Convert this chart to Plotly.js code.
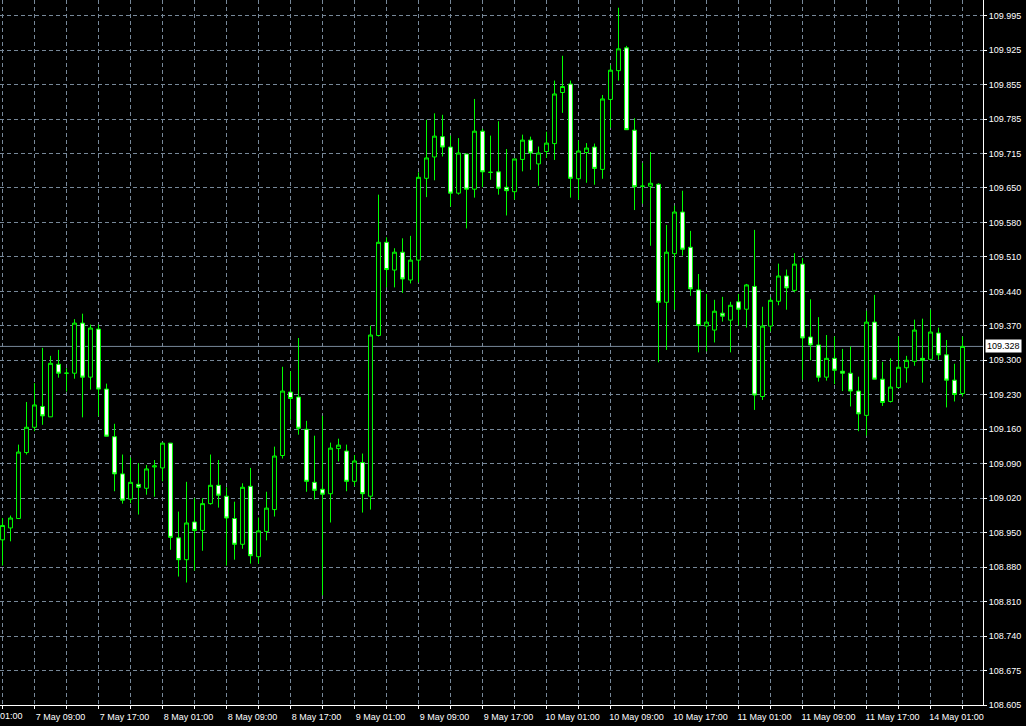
<!DOCTYPE html>
<html>
<head>
<meta charset="utf-8">
<script src="https://cdn.plot.ly/plotly-3.0.1.min.js"></script>
<style>
  html, body { margin: 0; padding: 0; background: #000; }
  #chart { width: 1026px; height: 726px; }
</style>
</head>
<body>
<div id="chart"></div>
<script>
// USDJPY H1 candles (bar 0 = 7 May 05:00; weekend gap after 11 May 23:00)
const open = [
108.938,108.962,108.981,109.114,109.165,109.207,109.186,109.292,109.274,109.274,
109.375,109.266,109.363,109.242,109.146,109.071,109.020,109.050,109.042,109.085,
109.083,109.133,108.942,108.898,108.974,108.957,109.011,109.048,109.026,108.981,
108.929,109.046,108.904,108.955,108.999,109.108,109.236,109.226,109.161,109.054,
109.040,109.031,109.122,109.117,109.056,109.094,109.026,109.350,109.538,109.482,
109.518,109.462,109.502,109.667,109.710,109.751,109.730,109.637,109.716,109.645,
109.762,109.679,109.680,109.649,109.640,109.705,109.744,109.696,109.721,109.737,
109.840,109.857,109.666,109.719,109.730,109.685,109.826,109.884,109.930,109.764,
109.651,109.651,109.655,109.417,109.515,109.599,109.528,109.442,109.369,109.361,
109.395,109.381,109.418,109.403,109.449,109.227,109.369,109.419,109.470,109.441,
109.494,109.347,109.331,109.266,109.304,109.278,109.274,109.238,109.189,109.377,
109.262,109.217,109.245,109.285,109.298,109.304,109.302,109.355,109.311,109.260,
109.233];
const high = [
108.982,108.987,109.130,109.216,109.254,109.325,109.309,109.321,109.284,109.383,
109.394,109.372,109.372,109.253,109.172,109.110,109.104,109.093,109.089,109.099,
109.133,109.133,108.995,109.055,109.022,109.022,109.110,109.099,109.044,109.015,
109.052,109.083,108.983,109.035,109.126,109.287,109.278,109.345,109.178,109.148,
109.188,109.134,109.142,109.130,109.109,109.112,109.370,109.634,109.548,109.526,
109.546,109.551,109.679,109.785,109.798,109.795,109.753,109.748,109.716,109.827,
109.767,109.753,109.782,109.726,109.706,109.755,109.751,109.731,109.761,109.864,
109.914,109.864,109.743,109.738,109.737,109.835,109.895,110.011,109.934,109.788,
109.698,109.720,109.657,109.573,109.612,109.642,109.561,109.474,109.434,109.422,
109.428,109.418,109.434,109.454,109.563,109.408,109.427,109.495,109.483,109.516,
109.506,109.423,109.387,109.351,109.348,109.323,109.328,109.267,109.400,109.432,
109.297,109.304,109.348,109.309,109.382,109.384,109.402,109.366,109.341,109.293,
109.348];
const low = [
108.886,108.935,108.981,109.110,109.157,109.170,109.186,109.265,109.237,109.263,
109.185,109.241,109.187,109.147,109.036,109.011,109.012,108.989,109.029,109.025,
109.056,108.918,108.864,108.852,108.876,108.916,109.009,109.003,108.886,108.898,
108.920,108.890,108.890,108.937,108.985,109.102,109.180,109.150,109.035,109.019,
108.826,108.973,109.096,109.036,109.046,108.993,108.999,109.348,109.447,109.447,
109.436,109.455,109.457,109.629,109.663,109.711,109.610,109.634,109.566,109.628,
109.649,109.664,109.634,109.592,109.624,109.681,109.684,109.652,109.708,109.704,
109.799,109.628,109.624,109.658,109.654,109.666,109.769,109.864,109.765,109.603,
109.616,109.531,109.296,109.321,109.402,109.511,109.430,109.316,109.318,109.336,
109.378,109.316,109.370,109.366,109.200,109.220,109.358,109.411,109.402,109.437,
109.261,109.300,109.257,109.259,109.252,109.238,109.207,109.157,109.148,109.262,
109.208,109.215,109.245,109.255,109.289,109.255,109.302,109.301,109.205,109.217,
109.227];
const close = [
108.967,108.982,109.115,109.165,109.210,109.188,109.294,109.274,109.274,109.375,
109.266,109.365,109.242,109.147,109.071,109.018,109.054,109.044,109.081,109.087,
109.133,108.943,108.898,108.972,108.957,109.011,109.048,109.028,108.982,108.929,
109.044,108.906,108.956,109.002,109.107,109.238,109.223,109.163,109.056,109.038,
109.030,109.123,109.129,109.056,109.097,109.031,109.351,109.538,109.483,109.518,
109.464,109.502,109.669,109.708,109.752,109.730,109.637,109.718,109.645,109.762,
109.680,109.679,109.647,109.642,109.706,109.744,109.718,109.718,109.738,109.837,
109.852,109.667,109.722,109.728,109.687,109.827,109.885,109.928,109.765,109.650,
109.651,109.657,109.417,109.518,109.599,109.524,109.444,109.370,109.377,109.399,
109.389,109.411,109.403,109.452,109.230,109.369,109.421,109.470,109.446,109.494,
109.345,109.331,109.266,109.304,109.280,109.274,109.238,109.192,109.377,109.262,
109.215,109.246,109.286,109.300,109.361,109.300,109.357,109.311,109.260,109.231,
109.328];

const lastPrice = 109.328;
const lastPriceLabel = '109.328';

// price scale labels (top to bottom)
const yLabels = ['109.995','109.925','109.855','109.785','109.715','109.650','109.580',
  '109.510','109.440','109.370','109.300','109.230','109.160','109.090','109.020',
  '108.950','108.880','108.810','108.740','108.675','108.605'];

// time categories: hourly bars, Friday 11 May closes at 23:00, Monday 14 May opens 00:00
const firstDay = 7, firstHour = 5, barsBeforeWeekend = 115, mondayDay = 14;
const times = [];
for (let i = 0; i < open.length; i++) {
  let d, h;
  if (i < barsBeforeWeekend) { const t = firstHour + i; d = firstDay + Math.floor(t / 24); h = t % 24; }
  else { d = mondayDay; h = i - barsBeforeWeekend; }
  times.push(d + ' May ' + String(h).padStart(2, '0') + ':00');
}
// visible tail of the "7 May 01:00" label that is scrolled past the left edge
const leftEdgeLabel = '01:00';

const xTickVals = times.filter((_, i) => i % 4 === 0);
const xTickText = xTickVals.map((t, k) => (k % 2 === 1 ? t : ''));
const yTop = parseFloat(yLabels[0]), yBot = parseFloat(yLabels[yLabels.length - 1]);
const yTickVals = yLabels.map((_, k) => yTop - k * (yTop - yBot) / (yLabels.length - 1));

const LIME = '#00ff00';
const GRID = '#778899';
const FONT = 'Liberation Sans, Arial, sans-serif';

const trace = {
  type: 'candlestick',
  x: times, open: open, high: high, low: low, close: close,
  increasing: { line: { color: LIME, width: 1 }, fillcolor: '#000000' },
  decreasing: { line: { color: LIME, width: 1 }, fillcolor: '#ffffff' },
  whiskerwidth: 0,
  hoverinfo: 'skip',
  showlegend: false
};

const layout = {
  width: 1026, height: 726,
  paper_bgcolor: '#000000', plot_bgcolor: '#000000',
  margin: { l: 0, r: 43, t: 0, b: 21, pad: 0 },
  showlegend: false,
  boxgap: 0.3,
  xaxis: {
    type: 'category',
    range: [-0.3125, 122.5625],
    rangeslider: { visible: false },
    tickmode: 'array', tickvals: xTickVals, ticktext: xTickText,
    showgrid: true, gridcolor: GRID, griddash: '4px,3px', gridwidth: 1,
    showline: true, linecolor: '#ffffff', linewidth: 1,
    ticks: 'outside', ticklen: 3, tickcolor: '#ffffff', tickwidth: 1,
    tickfont: { family: FONT, size: 9, color: '#ffffff' },
    ticklabelshift: 26,
    zeroline: false, fixedrange: true
  },
  yaxis: {
    side: 'right',
    range: [yBot, yBot + 1.4215],
    tickmode: 'array', tickvals: yTickVals, ticktext: yLabels,
    showgrid: true, gridcolor: GRID, griddash: '4px,3px', gridwidth: 1,
    showline: true, linecolor: '#ffffff', linewidth: 1,
    ticks: 'outside', ticklen: 3, tickcolor: '#ffffff', tickwidth: 1,
    tickfont: { family: FONT, size: 9, color: '#ffffff' },
    zeroline: false, fixedrange: true
  },
  shapes: [{
    type: 'line', xref: 'paper', x0: 0, x1: 1, yref: 'y', y0: lastPrice, y1: lastPrice,
    line: { color: GRID, width: 1 }, layer: 'below'
  }],
  annotations: [
    { xref: 'paper', x: 1, xanchor: 'left', xshift: 2, yref: 'y', y: lastPrice, yanchor: 'middle',
      text: lastPriceLabel, showarrow: false, bgcolor: '#ffffff', borderpad: 1,
      font: { family: FONT, size: 9, color: '#000000' } },
    { xref: 'paper', x: 0, xanchor: 'left', xshift: -2, yref: 'paper', y: 0, yanchor: 'top', yshift: -4,
      text: leftEdgeLabel, showarrow: false,
      font: { family: FONT, size: 9, color: '#ffffff' } }
  ]
};

Plotly.newPlot('chart', [trace], layout, { displayModeBar: false, staticPlot: true });
</script>
</body>
</html>
